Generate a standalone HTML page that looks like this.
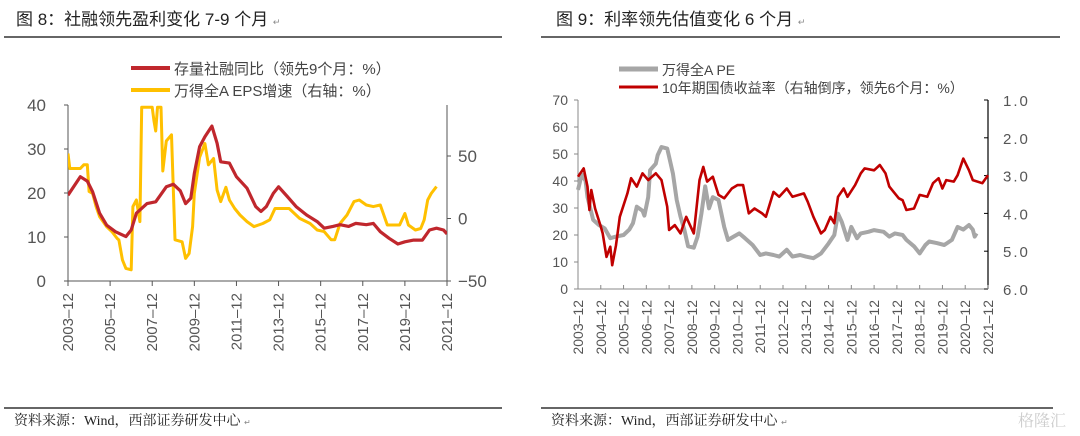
<!DOCTYPE html>
<html><head><meta charset="utf-8">
<style>
body{margin:0;width:1080px;height:436px;background:#fff;overflow:hidden;font-family:"Liberation Sans","Noto Sans CJK SC",sans-serif;}
svg{position:absolute;left:0;top:0}
</style></head>
<body>
<svg id="s" width="1080" height="436" viewBox="0 0 1080 436">
<g>
<text x="16" y="25" font-size="17" fill="#222">图 8：社融领先盈利变化 7-9 个月 <tspan font-size="9" fill="#888">↵</tspan></text>
<line x1="4" y1="37" x2="502" y2="37" stroke="#333" stroke-width="1.5"/>
<text x="556" y="25" font-size="17" fill="#222">图 9：利率领先估值变化 6 个月 <tspan font-size="9" fill="#888">↵</tspan></text>
<line x1="541" y1="37" x2="1060" y2="37" stroke="#333" stroke-width="1.5"/>
<line x1="4" y1="408" x2="502" y2="408" stroke="#333" stroke-width="1.5"/>
<line x1="541" y1="408" x2="1053" y2="408" stroke="#333" stroke-width="1.5"/>
</g>
<g font-family='"Liberation Serif","Noto Serif CJK SC",serif'>
<text x="14" y="425" font-size="14" fill="#222">资料来源：Wind，西部证券研发中心 <tspan font-size="8" fill="#888">↵</tspan></text>
<text x="551" y="425" font-size="14" fill="#222">资料来源：Wind，西部证券研发中心 <tspan font-size="8" fill="#888">↵</tspan></text>
<text x="1018" y="426" font-size="16" fill="#ccc">格隆汇</text>
</g>
</svg>
<script>
// ===== Left chart data =====
const leftRedMonths=[0,7,11,14,18,22,27,33,36,39,45,50,56,60,64,67,70,72,75,78,82,85,87,92,96,102,107,110,113,117,120,125,130,136,142,146,151,155,160,164,170,174,178,183,188,192,197,202,206,210,214,216];
const leftRedValues=[19.5,23.7,22.7,20.3,15.4,12.7,11.2,10.1,11.6,15.4,17.6,18.0,21.4,22,20.5,17.6,18.8,24.4,30.5,32.8,35.2,31.3,27.1,26.8,23.7,21.1,16.9,15.8,16.9,19.9,21.4,19.2,16.9,15,13.5,12,12.4,12.8,12.4,13.1,12.8,13.1,11.2,9.7,8.4,8.9,9.3,9.3,11.6,12,11.6,10.7];
const leftYelMonths=[0,1,7,9,11,12,14,16,18,20,22,25,28,29,31,33,36,37,39,41,42,43,45,48,49,50,51,52,53,54,56,59,61,65,67,69,71,72,75,78,80,83,85,87,90,92,95,98,102,106,111,115,118,123,126,132,138,142,146,150,152,155,159,163,166,170,174,178,182,185,189,192,194,198,201,203,205,207,210];
const leftYelValues=[52,40,40,43,43,21.6,20,9.5,1.5,-2.5,-6.5,-10.5,-15.9,-17.2,-33,-39.9,-41,9.5,14.8,-2.5,89,89,89,89,78,70,89,89,89,38,62,67,-17,-18.6,-31.9,-28,-6.5,20,49,60,43,48,22.8,13.5,25,14.8,8,2.8,-2.5,-6.5,-4,-1,8,8,8,0.1,-4,-9.2,-10.5,-17,-17,-4,2.8,13.5,14.8,10.8,9.5,10.8,-5.2,-5.2,-5.2,4,-5.2,-9.2,-8,-1,14.8,20,25.5];
const leftXLabels=["2003-12","2005-12","2007-12","2009-12","2011-12","2013-12","2015-12","2017-12","2019-12","2021-12"];
const leftYTicks=[0,10,20,30,40];
const leftY2Ticks=[-50,0,50];
// ===== Right chart data =====
const rightPeMonths=[0,2,4,5,8,11,14,17,20,24,27,29,31,34,35,37,38,41,42,44,47,48,50,52,54,56,58,61,63,65,67,69,71,74,77,79,82,85,88,92,96,99,103,106,110,113,117,120,124,128,132,135,137,139,142,144,147,149,153,156,161,164,167,171,173,177,180,183,185,189,193,197,200,203,206,208,209,210];
const rightPeValues=[36.7,42.5,40,34,25.6,23.7,22.5,18.8,19.4,20,22,24.4,30.5,29,27.2,34,44,46.4,49.6,52.6,52,49,42.8,33,26.8,22,15.8,15.3,19.4,27.9,38,29.9,34,33,23,18.2,19.4,20.6,18.8,16.3,12.6,13.2,12.6,12,14.5,12,12.6,12,11.4,13.2,16.9,20,27.9,24.8,18.2,23,18.8,20.6,21.2,21.8,21.2,19.4,20.6,20,18.2,15.8,13.2,16.3,17.6,17,16.3,18.2,23,22,23.7,22,19.4,20.6];
const rightYieldMonths=[0,3,5,6,7,9,12,13,15,17,18,20,22,26,28,31,34,37,41,44,47,48,51,54,57,61,64,66,68,71,74,77,81,84,87,90,93,97,99,103,106,110,113,119,121,124,128,130,133,135,137,140,142,146,149,151,156,159,162,164,169,171,173,177,180,184,187,190,192,194,198,200,203,206,208,213,216];
const rightYieldValues=[3.03,2.81,3.29,3.91,3.38,3.87,4.35,4.53,5.15,4.88,5.37,4.84,4.09,3.47,3.07,3.29,2.94,3.12,2.94,3.12,3.82,4.44,4.31,4.53,4.09,4.53,3.12,2.77,3.16,3.03,3.51,3.6,3.34,3.25,3.25,4.0,3.87,4.0,4.09,3.43,3.56,3.34,3.56,3.47,3.69,4.09,4.53,4.44,4.09,4.26,3.56,3.34,3.56,3.25,2.94,2.81,2.86,2.72,2.94,3.29,3.6,3.65,3.91,3.87,3.51,3.56,3.2,3.07,3.34,3.12,3.16,2.99,2.55,2.86,3.12,3.2,2.99];
const rightXLabels=["2003-12","2004-12","2005-12","2006-12","2007-12","2008-12","2009-12","2010-12","2011-12","2012-12","2013-12","2014-12","2015-12","2016-12","2017-12","2018-12","2019-12","2020-12","2021-12"];
const rightYTicks=[0,10,20,30,40,50,60,70];
const rightY2Ticks=["1.0","2.0","3.0","4.0","5.0","6.0"];

const NS="http://www.w3.org/2000/svg";
const svg=document.getElementById('s');
function mk(tag,attrs,parent){const e=document.createElementNS(NS,tag);for(const k in attrs)e.setAttribute(k,attrs[k]);(parent||svg).appendChild(e);return e;}
function txt(x,y,s,attrs){const t=mk('text',Object.assign({x:x,y:y},attrs));t.textContent=s;return t;}

// ---------- LEFT CHART ----------
const L={x0:68,x1:447,y0:281,y1:105};
const lx=m=>L.x0+m*(L.x1-L.x0)/216;
const ly=v=>L.y0-v*(L.y0-L.y1)/40;
const ly2=v=>218.5-v*1.25;
mk('clipPath',{id:'clipL'}).appendChild(mk('rect',{x:L.x0,y:L.y1-2,width:L.x1-L.x0,height:L.y0-L.y1+2}));
let ax=mk('line',{x1:L.x0,y1:L.y1,x2:L.x0,y2:L.y0,stroke:'#555','stroke-width':1});

ax=mk('line',{x1:L.x1,y1:L.y1,x2:L.x1,y2:L.y0,stroke:'#555','stroke-width':1});

ax=mk('line',{x1:L.x0,y1:L.y0,x2:L.x1,y2:L.y0,stroke:'#555','stroke-width':1});

leftYTicks.forEach(v=>{
  mk('line',{x1:L.x0-4,y1:ly(v),x2:L.x0,y2:ly(v),stroke:'#555'});
  const t=txt(46,ly(v)+6,String(v),{'font-size':17,fill:'#555','text-anchor':'end'});
  
  
});
leftY2Ticks.forEach(v=>{
  mk('line',{x1:L.x1,y1:ly2(v),x2:L.x1+4,y2:ly2(v),stroke:'#555'});
  const t=txt(458,ly2(v)+6,v<0?'\u221250':String(v),{'font-size':17,fill:'#555'});
  
  
});
leftXLabels.forEach((s,i)=>{
  const x=lx(i*24);
  mk('line',{x1:x,y1:L.y0,x2:x,y2:L.y0+5,stroke:'#555'});
  const t=txt(0,0,s.replace('-','\u2013'),{'font-size':15,fill:'#555','text-anchor':'end',transform:`translate(${x+5},293) rotate(-90)`});
  
  
});
let d=leftYelMonths.map((m,i)=>(i?'L':'M')+lx(m).toFixed(1)+','+ly2(leftYelValues[i]).toFixed(1)).join('');
let p=mk('path',{d:d,fill:'none',stroke:'#FFC000','stroke-width':3,'stroke-linejoin':'round','clip-path':'url(#clipL)'});

d=leftRedMonths.map((m,i)=>(i?'L':'M')+lx(m).toFixed(1)+','+ly(leftRedValues[i]).toFixed(1)).join('');
p=mk('path',{d:d,fill:'none',stroke:'#C0272D','stroke-width':3.2,'stroke-linejoin':'round','clip-path':'url(#clipL)'});

let g=mk('g',{});
mk('line',{x1:131,y1:68,x2:170,y2:68,stroke:'#C0272D','stroke-width':4},g);
txt(174,74,'存量社融同比（领先9个月：%）',{'font-size':15,fill:'#444'});
g=mk('g',{});
mk('line',{x1:131,y1:90,x2:170,y2:90,stroke:'#FFC000','stroke-width':4},g);
txt(174,96,'万得全A EPS增速（右轴：%）',{'font-size':15,fill:'#444'});

// ---------- RIGHT CHART ----------
const R={x0:578,x1:988,y0:289,y1:100};
const rx=m=>R.x0+m*(R.x1-R.x0)/216;
const ry=v=>R.y0-v*(R.y0-R.y1)/70;
const ry2=v=>R.y1+(v-1)*(R.y0-R.y1)/5;
ax=mk('line',{x1:R.x0,y1:R.y1,x2:R.x0,y2:R.y0,stroke:'#888','stroke-width':1});

ax=mk('line',{x1:R.x1,y1:R.y1,x2:R.x1,y2:R.y0,stroke:'#000','stroke-width':1.2});

ax=mk('line',{x1:R.x0,y1:R.y0,x2:R.x1,y2:R.y0,stroke:'#888','stroke-width':1});

rightYTicks.forEach(v=>{
  mk('line',{x1:R.x0-4,y1:ry(v),x2:R.x0,y2:ry(v),stroke:'#888'});
  const t=txt(568,ry(v)+5,String(v),{'font-size':14,fill:'#555','text-anchor':'end'});
  
  
});
rightY2Ticks.forEach(s=>{
  const v=parseFloat(s);
  mk('line',{x1:R.x1-4,y1:ry2(v),x2:R.x1,y2:ry2(v),stroke:'#000'});
  const t=txt(1003,ry2(v)+6,s,{'font-size':15,fill:'#555','letter-spacing':'2px'});
  
  
});
rightXLabels.forEach((s,i)=>{
  const x=rx(i*12);
  mk('line',{x1:x,y1:R.y0,x2:x,y2:R.y0-4,stroke:'#888'});
  const t=txt(0,0,s.replace('-','\u2013'),{'font-size':14,fill:'#555','text-anchor':'end',transform:`translate(${x+5},300) rotate(-90)`});
  
  
});
d=rightPeMonths.map((m,i)=>(i?'L':'M')+rx(m).toFixed(1)+','+ry(rightPeValues[i]).toFixed(1)).join('');
p=mk('path',{d:d,fill:'none',stroke:'#A6A6A6','stroke-width':4,'stroke-linejoin':'round'});

d=rightYieldMonths.map((m,i)=>(i?'L':'M')+rx(m).toFixed(1)+','+ry2(rightYieldValues[i]).toFixed(1)).join('');
p=mk('path',{d:d,fill:'none',stroke:'#C00000','stroke-width':2.6,'stroke-linejoin':'round'});

g=mk('g',{});
mk('line',{x1:619,y1:69,x2:658,y2:69,stroke:'#A6A6A6','stroke-width':5},g);
txt(662,75,'万得全A PE',{'font-size':14,fill:'#444'});
g=mk('g',{});
mk('line',{x1:619,y1:87,x2:658,y2:87,stroke:'#C00000','stroke-width':3},g);
txt(662,93,'10年期国债收益率（右轴倒序，领先6个月：%）',{'font-size':14,fill:'#444'});
</script>
</body></html>
